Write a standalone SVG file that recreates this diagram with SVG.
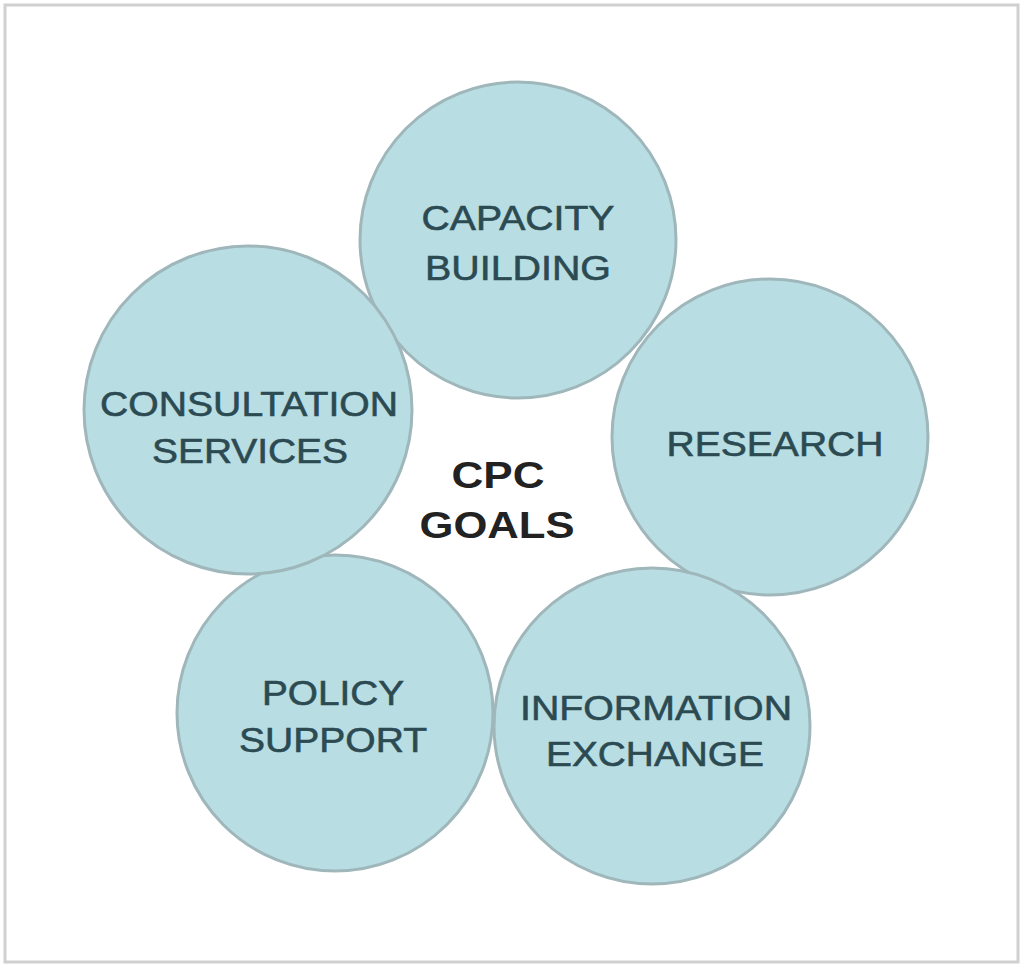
<svg xmlns="http://www.w3.org/2000/svg" width="1024" height="968" viewBox="0 0 1024 968">
<style>
.n{fill:#b8dde2;stroke:#9fb7bb;stroke-width:3}
.t{font-family:"Liberation Sans",Arial,sans-serif;font-size:35px;fill:#2c4a52;stroke:#2c4a52;stroke-width:0.6;text-anchor:middle}
.c{font-family:"Liberation Sans",Arial,sans-serif;font-size:36px;font-weight:bold;fill:#222;text-anchor:middle}
</style>
<rect x="0" y="0" width="1024" height="968" fill="#fff"/>
<rect x="5" y="5" width="1013" height="957" fill="#fff" stroke="#d0d0d0" stroke-width="3"/>
<g id="connectors"/>
<g id="capacity"><circle class="n" cx="518" cy="240" r="158"/><text class="t" x="518" y="230" textLength="193" lengthAdjust="spacingAndGlyphs">CAPACITY</text><text class="t" x="518" y="280" textLength="186" lengthAdjust="spacingAndGlyphs">BUILDING</text></g>
<g id="research"><circle class="n" cx="770" cy="437" r="158"/><text class="t" x="775" y="456" textLength="217" lengthAdjust="spacingAndGlyphs">RESEARCH</text></g>
<g id="info"><circle class="n" cx="652" cy="726" r="158"/><text class="t" x="656" y="720" textLength="272" lengthAdjust="spacingAndGlyphs">INFORMATION</text><text class="t" x="655" y="766" textLength="218" lengthAdjust="spacingAndGlyphs">EXCHANGE</text></g>
<g id="policy"><circle class="n" cx="335" cy="713" r="158"/><text class="t" x="333" y="705" textLength="142" lengthAdjust="spacingAndGlyphs">POLICY</text><text class="t" x="333" y="752" textLength="188" lengthAdjust="spacingAndGlyphs">SUPPORT</text></g>
<g id="consult"><circle class="n" cx="248" cy="410" r="164"/><text class="t" x="249" y="416" textLength="298" lengthAdjust="spacingAndGlyphs">CONSULTATION</text><text class="t" x="250" y="463" textLength="196" lengthAdjust="spacingAndGlyphs">SERVICES</text></g>
<g id="center"><text class="c" x="498" y="488" textLength="93" lengthAdjust="spacingAndGlyphs">CPC</text><text class="c" x="497" y="538" textLength="155" lengthAdjust="spacingAndGlyphs">GOALS</text></g>
</svg>
